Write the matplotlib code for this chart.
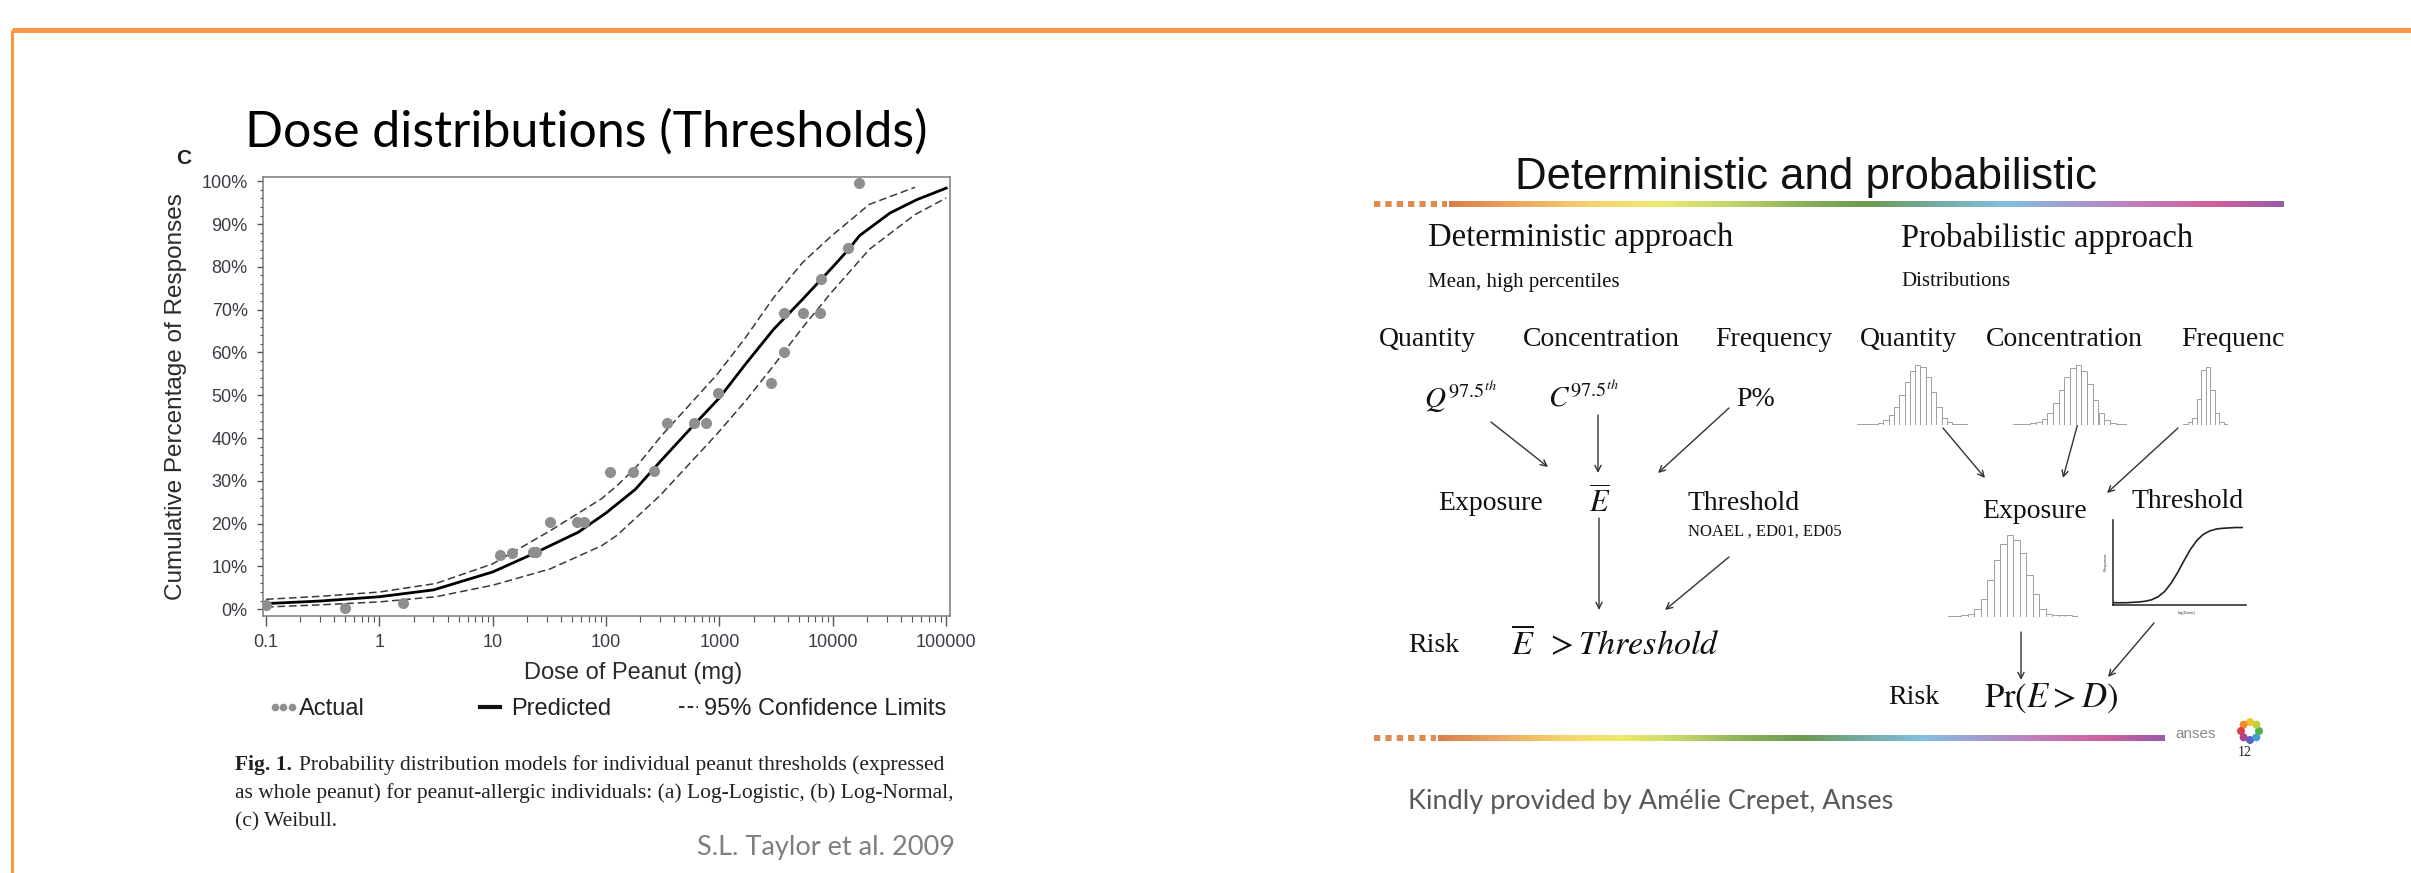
import numpy as np
import matplotlib.pyplot as plt
from matplotlib.lines import Line2D
from matplotlib.patches import Rectangle, Circle
from matplotlib.colors import LinearSegmentedColormap
from matplotlib.ticker import LogLocator, MultipleLocator, NullFormatter

plt.rcParams['font.family'] = ['Liberation Sans', 'DejaVu Sans']
plt.rcParams['mathtext.fontset'] = 'stix'

W, H = 2411, 873

# --- left chart: individual peanut thresholds (Weibull fit) ---
dose_obs = [0.1, 0.5, 1.6, 11.7, 14.9, 22.6, 24.3, 31.9, 55.7, 63.7, 108, 172, 262,
            344, 593, 763, 962, 2826, 3713, 3713, 5420, 7714, 7870, 13580, 16980]
pct_obs = [1.0, 0.3, 1.5, 12.7, 13.1, 13.3, 13.3, 20.4, 20.4, 20.4, 32.0, 32.0, 32.2,
           43.4, 43.4, 43.4, 50.5, 52.8, 60.0, 69.2, 69.2, 69.2, 77.1, 84.3, 99.5]

dose_pred = [0.1, 0.3, 1, 3, 10, 23, 57, 100, 181, 300, 533, 1000, 1700, 3000, 5400,
             10000, 14000, 17200, 32000, 55000, 100000]
pct_pred = [1.3, 1.9, 2.9, 4.5, 8.7, 13.0, 18.0, 22.5, 28.0, 34.5, 41.7, 49.4, 57.3, 65.4,
            72.4, 80.0, 84.3, 87.3, 92.6, 95.7, 98.4]

dose_up = [0.1, 0.3, 1, 3.15, 10, 32, 91, 124, 181, 300, 955, 1700, 3000, 5400, 9700,
           21000, 53000]
pct_up = [2.3, 3.0, 4.0, 6.0, 10.6, 18.3, 25.8, 28.8, 33.0, 40.2, 54.9, 63.5, 72.8,
          81.0, 87.2, 94.6, 98.6]

dose_lo = [0.1, 0.3, 1, 3.15, 10, 32, 91, 124, 181, 300, 955, 1700, 3000, 5400, 9700,
           21000, 53000, 100000]
pct_lo = [0.5, 1.0, 1.7, 2.9, 5.6, 9.4, 14.8, 17.2, 21.2, 26.6, 41.0, 48.7, 56.9, 65.8,
          74.0, 84.1, 92.2, 96.1]

x_ticks = [0.1, 1, 10, 100, 1000, 10000, 100000]
x_labels = ['0.1', '1', '10', '100', '1000', '10000', '100000']
y_ticks = [0, 10, 20, 30, 40, 50, 60, 70, 80, 90, 100]

# --- right panel: small illustrative distributions ---
hist_quantity = [0.01, 0.01, 0.02, 0.02, 0.04, 0.08, 0.16, 0.3, 0.5, 0.72, 0.9, 1.0,
                 0.97, 0.8, 0.55, 0.3, 0.12, 0.05, 0.02, 0.01, 0.01]
hist_concentration = [0.01, 0.01, 0.02, 0.03, 0.05, 0.1, 0.2, 0.36, 0.58, 0.8, 0.95,
                      1.0, 0.9, 0.68, 0.42, 0.2, 0.08, 0.03, 0.02, 0.01]
hist_frequency = [0.02, 0.05, 0.12, 0.45, 0.95, 1.0, 0.6, 0.2, 0.06, 0.02]
hist_exposure = [0.01, 0.01, 0.02, 0.04, 0.1, 0.22, 0.45, 0.7, 0.9, 1.0, 0.95, 0.78,
                 0.52, 0.28, 0.1, 0.04, 0.03, 0.02, 0.02, 0.01]
sig_logdose = [0, 0.5, 1, 1.5, 2, 2.5, 3, 3.5, 4, 4.5, 5, 5.5, 6, 6.5, 7, 7.5, 8,
               8.5, 9, 9.5, 10]
sig_response = [0.0, 0.0, 0.0, 0.005, 0.01, 0.02, 0.04, 0.08, 0.15, 0.26, 0.4, 0.56,
                0.71, 0.83, 0.91, 0.955, 0.98, 0.99, 0.995, 1.0, 1.0]

rainbow = ['#d9804a', '#eda860', '#f3d36e', '#eeea6c', '#c4d66c', '#8db35a', '#6c9a50',
           '#72aca0', '#82c0e0', '#a49ad0', '#c27ab8', '#d0609e', '#9a5aa8']
logo_colors = ['#f2c230', '#f08a30', '#e04040', '#b04090', '#6060c0', '#40a0d0', '#50b050', '#c0d040']

fig = plt.figure(figsize=(W / 100, H / 100), dpi=100)
bg = fig.add_axes([0, 0, 1, 1])
bg.set_xlim(0, W)
bg.set_ylim(H, 0)
bg.axis('off')


def px_axes(x0, y0, x1, y1):
    return fig.add_axes([x0 / W, 1 - y1 / H, (x1 - x0) / W, (y1 - y0) / H])


# slide frame
bg.plot([12, W], [30, 30], color='#f79646', lw=3.6, solid_capstyle='butt')
bg.plot([12, 12], [30, H], color='#f79646', lw=2.2, solid_capstyle='butt')

# ---------------- left chart ----------------
bg.text(586, 132, 'Dose distributions (Thresholds)', ha='center', va='center',
        family='Lato', fontsize=36, color='black')
bg.text(184, 159, 'C', ha='center', va='center', fontsize=15, fontweight='bold', color='#222')

ax = px_axes(263, 177, 950, 616)
ax.plot(dose_up, pct_up, color='#3a3a3a', lw=1.1, ls=(0, (5, 2.5)))
ax.plot(dose_lo, pct_lo, color='#3a3a3a', lw=1.1, ls=(0, (5, 2.5)))
ax.plot(dose_pred, pct_pred, color='black', lw=2.0)
ax.plot(dose_obs, pct_obs, 'o', color='#8f8f8f', ms=8, mec='none', zorder=3)
ax.set_xscale('log')
ax.set_xlim(0.094, 1.08e5)
ax.set_ylim(-1.6, 101.0)
ax.set_xticks(x_ticks)
ax.set_xticklabels(x_labels)
ax.xaxis.set_minor_locator(LogLocator(base=10, subs=range(2, 10)))
ax.xaxis.set_minor_formatter(NullFormatter())
ax.set_yticks(y_ticks)
ax.set_yticklabels([f'{v}%' for v in y_ticks])
ax.yaxis.set_minor_locator(MultipleLocator(2))
ax.tick_params(axis='x', which='major', length=7, width=1, color='#555', pad=6,
               labelsize=13, labelcolor='#3b3b45')
ax.tick_params(axis='x', which='minor', length=4, width=0.8, color='#555')
ax.tick_params(axis='y', which='major', length=4, width=1, color='#555', pad=7,
               labelsize=13, labelcolor='#3b3b45')
ax.tick_params(axis='y', which='minor', length=2.5, width=0.8, color='#555')
for s in ax.spines.values():
    s.set_color('#7a7a7a')
    s.set_linewidth(1.1)
ax.set_xlabel('Dose of Peanut (mg)', fontsize=17, color='#2a2a30')
ax.xaxis.set_label_coords((633 - 263) / 687, -(662 - 616) / 439)
ax.set_ylabel('Cumulative Percentage of Responses', fontsize=17.5, color='#2a2a30')
ax.yaxis.set_label_coords((187 - 263) / 687, 0.5)

leg_items = [
    (Line2D([], [], ls='none', marker='o', color='#8f8f8f', ms=5.5, mec='none'),
     'Actual', 268, 1.3, 0.0, 3),
    (Line2D([], [], color='#111111', lw=3), 'Predicted', 480, 0.85, 0.45, 1),
    (Line2D([], [], color='#333333', lw=1.5, ls=(0, (2.6, 1.6))),
     '95% Confidence Limits', 679, 0.8, 0.25, 1),
]
for handle, label, xl, hl, tp, npts in leg_items:
    fig.legend([handle], [label], loc='center left', bbox_to_anchor=(xl / W, 1 - 709 / H),
               frameon=False, borderpad=0, borderaxespad=0, numpoints=npts,
               handlelength=hl, handletextpad=tp,
               prop={'family': 'Liberation Sans', 'size': 17}, labelcolor='#222')

# caption
cap_x = 235
cap_y = [765, 793, 822]
cap_size = 15.5
t_bold = bg.text(cap_x, cap_y[0], 'Fig. 1.', va='center', ha='left', family='Liberation Serif',
                 fontsize=cap_size, fontweight='bold', color='#231f20')
fig.canvas.draw()
bb = t_bold.get_window_extent(fig.canvas.get_renderer())
bg.text(bb.x1 + 7, cap_y[0],
        'Probability distribution models for individual peanut thresholds (expressed',
        va='center', ha='left', family='Liberation Serif', fontsize=cap_size, color='#231f20')
bg.text(cap_x, cap_y[1],
        'as whole peanut) for peanut-allergic individuals: (a) Log-Logistic, (b) Log-Normal,',
        va='center', ha='left', family='Liberation Serif', fontsize=cap_size, color='#231f20')
bg.text(cap_x, cap_y[2], '(c) Weibull.', va='center', ha='left', family='Liberation Serif',
        fontsize=cap_size, color='#231f20')
bg.text(955, 847, 'S.L. Taylor et al. 2009', va='center', ha='right', family='Lato',
        fontsize=19.5, color='#7f7f7f')

# ---------------- right panel ----------------
cmap = LinearSegmentedColormap.from_list('rb', rainbow)
grad = np.linspace(0, 1, 256)[None, :]
for x0, x1, y in [(1449, 2284, 204), (1438, 2165, 738)]:
    rb = px_axes(x0, y - 3, x1, y + 3)
    rb.imshow(grad, aspect='auto', cmap=cmap)
    rb.axis('off')
    bg.plot([1374, x0 - 2], [y, y], color='#df8a52', lw=4.3, ls=(0, (1.05, 0.85)),
            solid_capstyle='butt', dash_capstyle='butt')

clip = Rectangle((1300, 0), 985, H, transform=bg.transData)
serif = 'Liberation Serif'
texts = [
    ('Deterministic and probabilistic', 1515, 177, 'Liberation Sans', 31.5),
    ('Deterministic approach', 1428, 238, serif, 23.5),
    ('Mean, high percentiles', 1428, 282, serif, 15),
    ('Probabilistic approach', 1901, 238, serif, 23.5),
    ('Distributions', 1901, 282, serif, 15),
    ('Quantity', 1379, 339, serif, 20),
    ('Concentration', 1523, 339, serif, 20),
    ('Frequency', 1715, 339, serif, 20),
    ('Quantity', 1860, 339, serif, 20),
    ('Concentration', 1986, 339, serif, 20),
    ('Frequency', 2181, 339, serif, 20),
    ('P%', 1736, 400, serif, 20),
    ('Exposure', 1438, 503, serif, 20),
    ('Threshold', 1688, 503, serif, 20),
    ('NOAEL , ED01, ED05', 1688, 532, serif, 12),
    ('Risk', 1408, 645, serif, 20),
    ('Exposure', 1982, 512, serif, 20),
    ('Threshold', 2132, 502, serif, 20),
    ('Risk', 1888, 698, serif, 20),
]
for s, x, y, fam, size in texts:
    t = bg.text(x, y, s, ha='left', va='center', family=fam, fontsize=size,
                color='#111', clip_on=True)
    t.set_clip_path(clip)

math_texts = [
    (r'$Q^{97.5^{th}}$', 1424, 397, 21),
    (r'$C^{97.5^{th}}$', 1548, 397, 21),
    (r'$\overline{E}$', 1589, 503, 22),
    (r'$\overline{E}\;\;>Threshold$', 1511, 645, 24.5),
    (r'$\mathrm{Pr}(E>D)$', 1984, 698, 25),
]
for s, x, y, size in math_texts:
    bg.text(x, y, s, ha='left', va='center', fontsize=size, color='#111')

arrows = [
    ((1491, 422), (1548, 467)), ((1598, 415), (1598, 473)), ((1729, 408), (1658, 473)),
    ((1599, 518), (1599, 610)), ((1729, 557), (1665, 610)),
    ((1943, 428), (1985, 478)), ((2078, 423), (2063, 478)), ((2178, 428), (2107, 493)),
    ((2021, 632), (2021, 680)), ((2154, 623), (2108, 677)),
]
for start, end in arrows:
    bg.annotate('', xy=end, xytext=start,
                arrowprops=dict(arrowstyle='->', color='#333', lw=1.0, shrinkA=0, shrinkB=0,
                                mutation_scale=11))

for heights, box in [(hist_quantity, (1857, 363, 1968, 425)),
                     (hist_concentration, (2013, 363, 2127, 425)),
                     (hist_frequency, (2183, 365, 2228, 425)),
                     (hist_exposure, (1948, 533, 2078, 617))]:
    hx = px_axes(*box)
    hx.bar(np.arange(len(heights)), heights, width=1.0, color='white',
           edgecolor='#a0a0a0', lw=0.7)
    hx.set_xlim(-0.5, len(heights) - 0.5)
    hx.set_ylim(0, max(heights) * 1.03)
    hx.axis('off')

sx = px_axes(2113, 520, 2246, 605)
sx.plot(sig_logdose, sig_response, color='#222', lw=1.2)
sx.set_xlim(0, 10.3)
sx.set_ylim(-0.03, 1.1)
sx.set_xticks([])
sx.set_yticks([])
for side in ['top', 'right']:
    sx.spines[side].set_visible(False)
for side in ['left', 'bottom']:
    sx.spines[side].set_color('#222')
    sx.spines[side].set_linewidth(1.1)
bg.text(2106, 562, 'Response', rotation=90, ha='center', va='center', fontsize=3, color='#333')
bg.text(2187, 613, 'log(Dose)', ha='center', va='center', fontsize=3, color='#333')

# anses logo + page number
bg.text(2175, 734, 'anses', ha='left', va='center', fontsize=11, color='#8a8a8a')
for i, c in enumerate(logo_colors):
    a = 2 * np.pi * i / len(logo_colors) + np.pi / 2
    bg.add_patch(Circle((2250 + 9 * np.cos(a), 731 - 9 * np.sin(a)), 4, color=c, lw=0))
bg.text(2245, 753, '12', ha='center', va='center', family=serif, fontsize=10, color='#222')

bg.text(1408, 802, 'Kindly provided by Amélie Crepet, Anses', ha='left', va='center',
        family='Lato', fontsize=19.5, color='#595959')

fig.savefig('out.png', dpi=100)
